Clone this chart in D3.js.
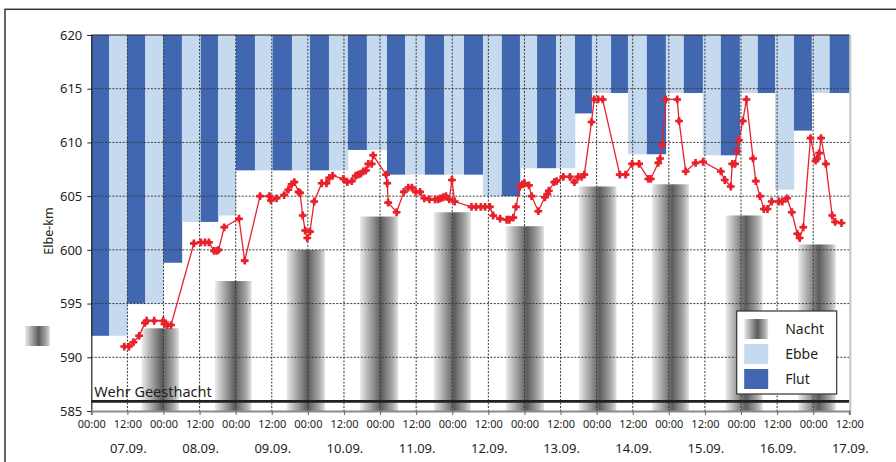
<!DOCTYPE html>
<html>
<head>
<meta charset="utf-8">
<script src="https://cdn.jsdelivr.net/npm/d3@7"></script>
<style>
  body { margin: 0; background: #fff; }
  svg { display: block; font-family: "Noto Sans", "Open Sans", sans-serif; }
</style>
</head>
<body>
<div id="chart"></div>
<script>
// hours since 07.09. 00:00
const tideBounds = [0, 5.9, 11.9, 17.9, 23.9, 30.1, 36.4, 42.1, 48.1, 54.4, 60.3, 66.7, 72.7, 79.0,
    85.3, 91.6, 98.3, 104.3, 110.9, 117.3, 123.9, 130.2, 136.5, 142.5, 148.2, 154.5, 160.8, 166.4,
    172.8, 178.4, 184.7, 191.0, 197.0, 203.3, 209.3, 215.6, 221.6, 227.3, 233.6, 239.5, 245.5, 252];
const tidePhase = ["Flut", "Ebbe"]; // alternating, starting with Flut
const tideKm = [592.0, 592.0, 595.0, 595.0, 598.8, 602.6, 602.6, 603.2, 607.4, 607.4, 607.4, 607.4,
    607.4, 607.4, 609.3, 609.3, 607.0, 607.0, 607.0, 607.0, 607.0, 605.0, 605.0, 607.6, 607.6, 607.6,
    612.7, 614.6, 614.6, 608.9, 608.9, 614.6, 614.6, 608.8, 608.8, 614.6, 614.6, 605.6, 611.1, 614.6, 614.6];

const nightStart = [16.75, 41.1, 64.95, 89.3, 113.9, 137.8, 162.1, 186.4, 210.9, 235.0];
const nightEnd = [29.15, 53.3, 77.7, 102.0, 126.2, 150.5, 174.6, 198.7, 223.2, 247.5];
const nightKm = [592.7, 597.1, 600.0, 603.1, 603.5, 602.2, 605.9, 606.1, 603.2, 600.5];

const posHours = [10.97, 12.5, 14.0, 15.9, 17.85, 18.4, 20.9, 23.9, 24.3, 25.3, 26.5, 34.1, 36.4, 37.8,
    39.1, 40.8, 41.7, 42.3, 44.2, 49.1, 51.0, 56.1, 59.2, 59.7, 61.6, 64.1, 65.5, 66.6, 67.5, 68.9,
    69.4, 70.3, 71.1, 71.8, 72.7, 74.1, 76.6, 78.2, 79.1, 80.2, 83.8, 85.1, 86.6, 87.9, 88.8, 89.6,
    90.4, 91.3, 92.1, 93.2, 93.7, 98.0, 98.4, 98.7, 101.5, 103.9, 105.4, 106.6, 107.9, 109.3, 110.7,
    112.4, 114.3, 115.3, 116.1, 117.0, 117.9, 119.0, 119.9, 120.8, 126.4, 127.9, 129.5, 130.9, 132.5,
    133.6, 135.9, 138.1, 139.0, 140.3, 141.2, 142.5, 143.3, 144.0, 145.5, 146.4, 148.6, 150.8, 151.6,
    152.1, 153.9, 154.7, 156.9, 159.1, 160.6, 161.9, 163.0, 163.9, 166.3, 167.2, 168.5, 170.0, 175.7,
    177.6, 179.8, 182.1, 185.2, 186.0, 188.5, 189.1, 189.8, 191.0, 194.8, 195.4, 197.6, 200.9, 203.4,
    209.3, 210.6, 212.6, 213.1, 214.0, 214.7, 215.3, 216.6, 217.8, 220.0, 220.9, 222.3, 223.6, 224.8,
    226.2, 228.6, 229.7, 231.3, 232.9, 234.7, 235.5, 236.7, 239.1, 240.8, 241.3, 242.0, 242.6, 244.2,
    246.3, 247.3, 249.4];
const posKm = [591.0, 591.0, 591.4, 592.0, 593.2, 593.4, 593.4, 593.4, 593.1, 593.0, 593.0, 600.6, 600.7, 600.7,
    600.7, 599.9, 599.9, 600.0, 602.1, 602.9, 599.0, 605.0, 605.0, 604.6, 604.8, 605.1, 605.6, 606.1, 606.3, 605.4,
    605.3, 603.2, 601.8, 601.1, 601.7, 604.5, 606.2, 606.2, 606.7, 606.9, 606.6, 606.3, 606.4, 606.9, 607.0, 607.1,
    607.3, 607.4, 608.0, 608.0, 608.8, 607.0, 606.2, 604.4, 603.5, 605.4, 605.8, 605.8, 605.4, 605.4, 604.8,
    604.7, 604.7, 604.7, 604.8, 604.9, 605.0, 604.7, 606.5, 604.5, 604.0, 604.0, 604.0, 604.0, 604.0,
    603.2, 602.9, 602.8, 602.8, 603.0, 604.0, 605.9, 606.1, 606.2, 606.0, 605.0, 603.6, 604.9, 605.2,
    605.5, 606.3, 606.4, 606.8, 606.8, 606.3, 606.8, 606.8, 607.0, 611.9, 614.0, 614.0, 614.0, 607.0,
    607.0, 608.0, 608.0, 606.6, 606.6, 608.1, 608.5, 609.8, 614.0, 614.0, 612.0, 607.3, 608.1, 608.2,
    607.3, 606.5, 605.9, 608.0, 608.0, 609.2, 610.2, 612.0, 614.0, 608.5, 606.4, 605.0, 603.8, 603.8,
    604.5, 604.5, 604.5, 604.8, 603.5, 601.5, 601.1, 602.1, 610.4, 608.3, 608.5, 609.0, 610.4, 608.0,
    603.2, 602.6, 602.5];

const wehrKm = 585.9;
const hourLabels = ["00:00", "12:00"];
const dayLabels = ["07.09.", "08.09.", "09.09.", "10.09.", "11.09.", "12.09.", "13.09.", "14.09.",
    "15.09.", "16.09.", "17.09."];
const kmTicks = [585, 590, 595, 600, 605, 610, 615, 620];
const legendLabels = ["Nacht", "Ebbe", "Flut"];

const colors = {Flut: "#4067b0", Ebbe: "#c6daef", line: "#e8212b"};

const width = 896;
const height = 462;
const margin = {t: 35, b: 51, l: 91.3, r: 46.7};

const svg = d3.select("#chart")
    .append("svg")
    .attr("width", width)
    .attr("height", height)
    .attr("viewBox", [0, 0, width, height]);

// night gradient
const grad = svg.append("defs").append("linearGradient")
    .attr("id", "night")
    .attr("x1", "0%").attr("x2", "100%").attr("y1", "0%").attr("y2", "0%");
[[0, "#ececec"], [0.15, "#c4c4c4"], [0.55, "#5c5c5c"], [0.85, "#a8a8a8"], [1, "#e2e2e2"]].forEach(s => {
    grad.append("stop").attr("offset", s[0]).attr("stop-color", s[1]);
});

// frame
svg.append("rect")
    .attr("x", 5).attr("y", 9.3)
    .attr("width", 940).attr("height", 500)
    .attr("fill", "none")
    .attr("stroke", "#333")
    .attr("stroke-width", 1.5);

const xScale = d3.scaleLinear()
    .domain([0, 252])
    .range([margin.l, width - margin.r]);
const yScale = d3.scaleLinear()
    .domain([585, 620])
    .range([height - margin.b, margin.t]);

// tide bars
svg.append("g")
    .selectAll("rect")
    .data(tideKm)
    .join("rect")
    .attr("x", (d, i) => xScale(tideBounds[i]))
    .attr("y", yScale(620))
    .attr("width", (d, i) => xScale(tideBounds[i + 1]) - xScale(tideBounds[i]) + 0.3)
    .attr("height", d => yScale(d) - yScale(620))
    .attr("fill", (d, i) => colors[tidePhase[i % 2]]);

// night bars
svg.append("g")
    .selectAll("rect")
    .data(nightKm)
    .join("rect")
    .attr("x", (d, i) => xScale(nightStart[i]))
    .attr("y", d => yScale(d))
    .attr("width", (d, i) => xScale(nightEnd[i]) - xScale(nightStart[i]))
    .attr("height", d => yScale(585) - yScale(d))
    .attr("fill", "url(#night)");

// grid
const grid = svg.append("g").attr("class", "grid")
    .attr("stroke", "#3a3a3a")
    .attr("stroke-width", 1)
    .attr("stroke-dasharray", "2,1.5");
grid.selectAll("line.h")
    .data(kmTicks.filter(d => d > 585 && d < 620))
    .join("line")
    .attr("class", "h")
    .attr("x1", xScale(0)).attr("x2", xScale(252))
    .attr("y1", d => yScale(d)).attr("y2", d => yScale(d));
grid.selectAll("line.v")
    .data(d3.range(12, 252, 12))
    .join("line")
    .attr("class", "v")
    .attr("x1", d => xScale(d)).attr("x2", d => xScale(d))
    .attr("y1", yScale(620)).attr("y2", yScale(585));

// Wehr Geesthacht
svg.append("line")
    .attr("x1", xScale(0)).attr("x2", xScale(252))
    .attr("y1", yScale(wehrKm)).attr("y2", yScale(wehrKm))
    .attr("stroke", "#231f20")
    .attr("stroke-width", 2.6);
svg.append("text")
    .attr("x", xScale(0) + 3)
    .attr("y", yScale(wehrKm) - 4)
    .attr("font-size", "14.5px")
    .attr("fill", "#231f20")
    .text("Wehr Geesthacht");

// right + top borders of plot
svg.append("line")
    .attr("x1", xScale(252) + 1).attr("x2", xScale(252) + 1)
    .attr("y1", yScale(620)).attr("y2", yScale(585))
    .attr("stroke", "#c4c4c4").attr("stroke-width", 2);
svg.append("line")
    .attr("x1", xScale(0)).attr("x2", xScale(252))
    .attr("y1", yScale(620)).attr("y2", yScale(620))
    .attr("stroke", "#222").attr("stroke-width", 1.2);

// y axis
const yAxis = d3.axisLeft(yScale)
    .tickValues(kmTicks)
    .tickSize(4)
    .tickPadding(5)
    .tickFormat(d3.format("d"));
const gy = svg.append("g")
    .attr("transform", `translate(${margin.l}, 0)`)
    .call(yAxis);
gy.select(".domain").attr("stroke", "#222").attr("stroke-width", 1.2);
gy.selectAll(".tick line").attr("stroke", "#222");
gy.selectAll("text").attr("font-size", "13px").attr("fill", "#231f20").attr("font-family", "Noto Sans");

svg.append("text")
    .attr("transform", `translate(52.5, 231) rotate(-90)`)
    .attr("text-anchor", "middle")
    .attr("font-size", "12.5px")
    .attr("fill", "#231f20")
    .text("Elbe-km");

// x axis
const xAxis = d3.axisBottom(xScale)
    .tickValues(d3.range(0, 253, 12))
    .tickSize(4)
    .tickPadding(5)
    .tickFormat(d => hourLabels[(d / 12) % 2]);
const gx = svg.append("g")
    .attr("transform", `translate(0, ${yScale(585)})`)
    .call(xAxis);
gx.select(".domain").attr("stroke", "#8a8a8a").attr("stroke-width", 2);
gx.selectAll(".tick line").attr("stroke", "#666");
gx.selectAll("text").attr("font-size", "11px").attr("fill", "#231f20").attr("font-family", "Noto Sans");

svg.append("g")
    .selectAll("text")
    .data(dayLabels)
    .join("text")
    .attr("x", (d, i) => xScale(12 + 24 * i) + 1)
    .attr("y", 453)
    .attr("text-anchor", "middle")
    .attr("font-size", "13px")
    .attr("fill", "#231f20")
    .text(d => d);

// position line
const pts = posHours.map((h, i) => [h, posKm[i]]);
svg.append("path")
    .datum(pts)
    .attr("fill", "none")
    .attr("stroke", colors.line)
    .attr("stroke-width", 1.3)
    .attr("d", d3.line().x(d => xScale(d[0])).y(d => yScale(d[1])));
const marks = svg.append("g")
    .selectAll("g")
    .data(pts)
    .join("g")
    .attr("transform", d => `translate(${xScale(d[0])}, ${yScale(d[1])})`)
    .attr("fill", colors.line);
marks.append("path").attr("d", d3.symbol().type(d3.symbolCross).size(34));
marks.append("path").attr("d", d3.symbol().type(d3.symbolSquare).size(14));

// stray swatch at left
svg.append("rect")
    .attr("x", 25).attr("y", 326)
    .attr("width", 25).attr("height", 20)
    .attr("fill", "url(#night)");

// legend
const legend = svg.append("g").attr("transform", "translate(736.7, 311)");
legend.append("rect")
    .attr("width", 100).attr("height", 83)
    .attr("fill", "#fff")
    .attr("stroke", "#333")
    .attr("stroke-width", 1.2);
const legendFill = ["url(#night)", colors.Ebbe, colors.Flut];
legendLabels.forEach((lab, i) => {
    legend.append("rect")
        .attr("x", 7.5).attr("y", 8 + i * 25)
        .attr("width", 24).attr("height", 20)
        .attr("fill", legendFill[i]);
    legend.append("text")
        .attr("x", 48.5).attr("y", 18 + i * 25)
        .attr("dy", "0.35em")
        .attr("font-size", "14px")
        .attr("fill", "#231f20")
        .text(lab);
});
</script>
</body>
</html>
